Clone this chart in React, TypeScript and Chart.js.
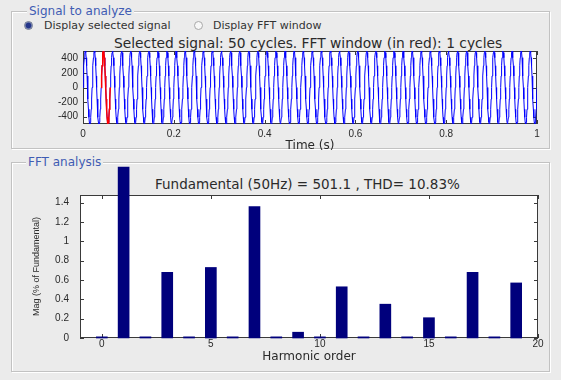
import React, { useEffect, useRef } from "react";
import { Chart, registerables } from "chart.js";

Chart.register(...registerables);

// ---------- Signal panel ----------
const SIGNAL_CYCLES = 50;
const SAMPLE_STEP = 0.001; // s (20 samples per 50 Hz cycle)
const cycleSamples = [
  0, 158, 298, 408, 478, 501, 478, 408, 298, 158,
  0, -158, -298, -408, -478, -501, -478, -408, -298, -158,
];
const fftWindow = [0.04, 0.06];
const timeTicks = [0, 0.2, 0.4, 0.6, 0.8, 1];
const timeTickLabels = ["0", "0.2", "0.4", "0.6", "0.8", "1"];
const signalTicks = [-400, -200, 0, 200, 400];
const signalTickLabels = ["-400", "-200", "0", "200", "400"];

// ---------- FFT panel ----------
const harmonicOrders = [0, 1, 2, 3, 4, 5, 6, 7, 8, 9, 10, 11, 12, 13, 14, 15, 16, 17, 18, 19];
const harmonicMagnitudes = [
  0.012, 1.77, 0.012, 0.68, 0.012, 0.73, 0.012, 1.36, 0.012, 0.06,
  0.012, 0.53, 0.012, 0.35, 0.012, 0.21, 0.012, 0.68, 0.012, 0.57,
];
const harmonicTicks = [0, 5, 10, 15, 20];
const harmonicTickLabels = ["0", "5", "10", "15", "20"];
const magnitudeTicks = [0, 0.2, 0.4, 0.6, 0.8, 1, 1.2, 1.4];
const magnitudeTickLabels = ["0", "0.2", "0.4", "0.6", "0.8", "1", "1.2", "1.4"];

const BG = "#ebebeb";
const TICK_FONT = { family: "Liberation Sans", size: 10 };

const fixedTicks = (values: number[]) => (scale: any) => {
  scale.ticks = values.map((v) => ({ value: v }));
};
const tickText = (values: number[], labels: string[]) => (value: any) => {
  const i = values.findIndex((v) => Math.abs(v - Number(value)) < 1e-9);
  return i >= 0 ? labels[i] : "";
};

// White axes background, a box around the plot and inward tick marks on all four sides
const axesBox = {
  id: "axesBox",
  beforeDraw(chart: any) {
    const { ctx, chartArea: a } = chart;
    ctx.save();
    ctx.fillStyle = "#ffffff";
    ctx.fillRect(a.left, a.top, a.right - a.left, a.bottom - a.top);
    ctx.restore();
  },
  beforeDatasetsDraw(chart: any) {
    const { ctx, chartArea: a, scales } = chart;
    const len = 4;
    ctx.save();
    ctx.strokeStyle = "#3a3a3a";
    ctx.lineWidth = 1;
    ctx.strokeRect(a.left + 0.5, a.top + 0.5, a.right - a.left - 1, a.bottom - a.top - 1);
    ctx.beginPath();
    scales.x.ticks.forEach((t: any) => {
      const px = Math.round(scales.x.getPixelForValue(t.value)) + 0.5;
      ctx.moveTo(px, a.bottom);
      ctx.lineTo(px, a.bottom - len);
      ctx.moveTo(px, a.top);
      ctx.lineTo(px, a.top + len);
    });
    scales.y.ticks.forEach((t: any) => {
      const py = Math.round(scales.y.getPixelForValue(t.value)) + 0.5;
      ctx.moveTo(a.left, py);
      ctx.lineTo(a.left + len, py);
      ctx.moveTo(a.right, py);
      ctx.lineTo(a.right - len, py);
    });
    ctx.stroke();
    ctx.restore();
  },
};

function SignalChart() {
  const ref = useRef<HTMLCanvasElement | null>(null);
  useEffect(() => {
    if (!ref.current) return;
    const samples: { x: number; y: number }[] = [];
    const perCycle = cycleSamples.length;
    for (let c = 0; c < SIGNAL_CYCLES; c++) {
      for (let k = 0; k < perCycle; k++) {
        samples.push({ x: (c * perCycle + k) * SAMPLE_STEP, y: cycleSamples[k] });
      }
    }
    samples.push({ x: SIGNAL_CYCLES * perCycle * SAMPLE_STEP, y: cycleSamples[0] });
    const windowSamples = samples.filter(
      (p) => p.x >= fftWindow[0] - 1e-9 && p.x <= fftWindow[1] + 1e-9
    );

    const chart = new Chart(ref.current, {
      type: "line",
      data: {
        datasets: [
          {
            data: windowSamples,
            borderColor: "#ff0000",
            borderWidth: 1.5,
            pointRadius: 0,
            tension: 0,
          },
          {
            data: samples,
            borderColor: "#0000ff",
            borderWidth: 1,
            pointRadius: 0,
            tension: 0,
          },
        ],
      },
      options: {
        animation: false,
        responsive: false,
        events: [],
        layout: { autoPadding: false, padding: { left: 0, right: 24, top: 21, bottom: 0 } },
        plugins: { legend: { display: false }, tooltip: { enabled: false } },
        scales: {
          x: {
            type: "linear",
            min: 0,
            max: 1,
            afterBuildTicks: fixedTicks(timeTicks),
            afterFit: (s: any) => {
              s.height = 31;
            },
            grid: { display: false, drawTicks: false },
            border: { display: false },
            ticks: {
              padding: 4,
              maxRotation: 0,
              autoSkip: false,
              color: "#2a2a2a",
              font: TICK_FONT,
              callback: tickText(timeTicks, timeTickLabels),
            },
            title: {
              display: true,
              text: "Time (s)",
              color: "#2a2a2a",
              font: { family: "DejaVu Sans", size: 12 },
              padding: { top: 0, bottom: 2 },
            },
          },
          y: {
            type: "linear",
            min: -500,
            max: 500,
            afterBuildTicks: fixedTicks(signalTicks),
            afterFit: (s: any) => {
              s.width = 83;
            },
            grid: { display: false, drawTicks: false },
            border: { display: false },
            ticks: {
              padding: 5,
              autoSkip: false,
              color: "#2a2a2a",
              font: TICK_FONT,
              callback: tickText(signalTicks, signalTickLabels),
            },
          },
        },
      },
      plugins: [axesBox],
    } as any);
    return () => chart.destroy();
  }, []);
  return (
    <canvas
      ref={ref}
      width={561}
      height={125}
      style={{ position: "absolute", left: 0, top: 30, width: 561, height: 125 }}
    />
  );
}

function SpectrumChart() {
  const ref = useRef<HTMLCanvasElement | null>(null);
  useEffect(() => {
    if (!ref.current) return;
    const chart = new Chart(ref.current, {
      type: "bar",
      data: {
        datasets: [
          {
            data: harmonicOrders.map((h, i) => ({ x: h, y: harmonicMagnitudes[i] })),
            backgroundColor: "#00007c",
            borderWidth: 0,
            barThickness: 11,
            clip: false,
          },
        ],
      },
      options: {
        animation: false,
        responsive: false,
        events: [],
        layout: { autoPadding: false, padding: { left: 0, right: 23, top: 30, bottom: 0 } },
        plugins: { legend: { display: false }, tooltip: { enabled: false } },
        scales: {
          x: {
            type: "linear",
            min: -1,
            max: 20,
            offset: false,
            afterBuildTicks: fixedTicks(harmonicTicks),
            afterFit: (s: any) => {
              s.height = 37;
            },
            grid: { display: false, drawTicks: false },
            border: { display: false },
            ticks: {
              padding: 0,
              maxRotation: 0,
              autoSkip: false,
              color: "#2a2a2a",
              font: TICK_FONT,
              callback: tickText(harmonicTicks, harmonicTickLabels),
            },
            title: {
              display: true,
              text: "Harmonic order",
              color: "#2a2a2a",
              font: { family: "DejaVu Sans", size: 12 },
              padding: { top: 0, bottom: 11 },
            },
          },
          y: {
            type: "linear",
            min: 0,
            max: 1.48,
            afterBuildTicks: fixedTicks(magnitudeTicks),
            afterFit: (s: any) => {
              s.width = 80;
            },
            grid: { display: false, drawTicks: false },
            border: { display: false },
            ticks: {
              padding: 11,
              autoSkip: false,
              color: "#2a2a2a",
              font: TICK_FONT,
              callback: tickText(magnitudeTicks, magnitudeTickLabels),
            },
            title: {
              display: true,
              text: "Mag (% of Fundamental)",
              color: "#2a2a2a",
              font: { family: "Liberation Sans", size: 9 },
              padding: { top: 31, bottom: 0 },
            },
          },
        },
      },
      plugins: [axesBox],
    } as any);
    return () => chart.destroy();
  }, []);
  return (
    <canvas
      ref={ref}
      width={561}
      height={210}
      style={{ position: "absolute", left: 0, top: 165, width: 561, height: 210 }}
    />
  );
}

const frame = (left: number, top: number, right: number, bottom: number): React.CSSProperties => ({
  position: "absolute",
  left,
  top,
  width: right - left,
  height: bottom - top,
  border: "1px solid #c2c2c2",
  boxShadow: "inset 1px 1px 0 #ffffff, 1px 1px 0 #ffffff",
  boxSizing: "border-box",
});

const panelTitle = (left: number, top: number): React.CSSProperties => ({
  position: "absolute",
  left,
  top,
  padding: "0 2px",
  background: BG,
  color: "#3f5cb3",
  fontSize: 12,
  lineHeight: "14px",
  whiteSpace: "nowrap",
});

const radio = (left: number, top: number, on: boolean): React.CSSProperties => ({
  position: "absolute",
  left,
  top,
  width: 9,
  height: 9,
  borderRadius: "50%",
  border: on ? "1px solid #6f7890" : "1px solid #a8a8a8",
  background: on ? "radial-gradient(circle, #25368a 0 2.5px, #9aa6c8 3.5px)" : "#f7f7f7",
  boxSizing: "border-box",
});

const textAt = (left: number, top: number, size: number, color = "#2a2a2a"): React.CSSProperties => ({
  position: "absolute",
  left,
  top,
  fontSize: size,
  lineHeight: `${Math.round(size * 1.2)}px`,
  color,
  whiteSpace: "nowrap",
});

export default function App() {
  return (
    <div
      style={{
        position: "fixed",
        left: 0,
        top: 0,
        width: 561,
        height: 380,
        background: BG,
        overflow: "hidden",
        fontFamily: "'DejaVu Sans', sans-serif",
      }}
    >
      <div style={frame(11, 11, 550, 149)} />
      <div style={panelTitle(27, 4)}>Signal to analyze</div>
      <div style={radio(24, 21, true)} />
      <div style={textAt(44, 19, 11, "#333")}>Display selected signal</div>
      <div style={radio(194, 21, false)} />
      <div style={textAt(213, 19, 11, "#333")}>Display FFT window</div>
      <div style={textAt(114, 35, 13.8)}>Selected signal: 50 cycles. FFT window (in red): 1 cycles</div>
      <SignalChart />

      <div style={frame(11, 162, 550, 372)} />
      <div style={panelTitle(26, 155)}>FFT analysis</div>
      <div style={textAt(155, 176, 13.5)}>Fundamental (50Hz) = 501.1 , THD= 10.83%</div>
      <SpectrumChart />
    </div>
  );
}
